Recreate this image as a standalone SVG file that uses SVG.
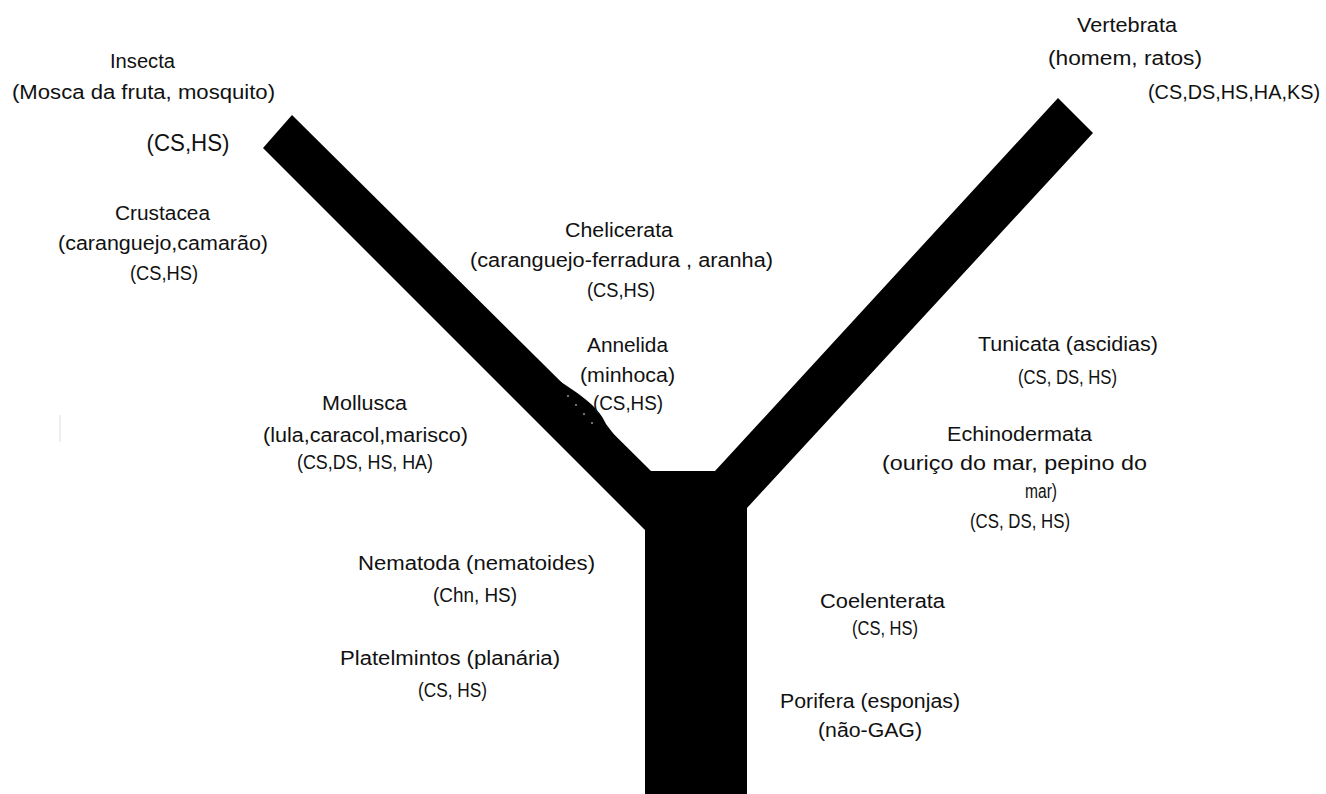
<svg xmlns="http://www.w3.org/2000/svg" width="1326" height="794" viewBox="0 0 1326 794">
  <style>
    .lbl { font-family: "Liberation Sans", Arial, sans-serif; font-size: 20px; fill: #111; text-anchor: middle; }
    .big { font-size: 24px; }
    .trunk { fill: #000; }
  </style>
  <rect width="1326" height="794" fill="#fff"/>

  <!-- Y-shaped phylogeny: trunk with two diagonal branches -->
  <g id="connectors">
    <path class="trunk" d="M263,148 L292,115 L651,471 L715,471 L1058,98 L1093,133 L747,508 L747,794 L645,794 L645,530 Z"/>
    <!-- slight bulge on the left branch -->
    <path class="trunk" d="M556,379 C575,391 598,405 606,424 L621,444 L590,444 Z"/>
    <g fill="#fff">
      <circle cx="568" cy="396" r="0.8"/>
      <circle cx="576" cy="405" r="0.8"/>
      <circle cx="584" cy="414" r="0.8"/>
      <circle cx="592" cy="423" r="0.8"/>
    </g>
  </g>

  <!-- faint mark at left margin -->
  <line x1="60" y1="415" x2="60" y2="442" stroke="#eee" stroke-width="2"/>

  <g id="insecta">
    <text class="lbl" x="142.5" y="68" textLength="65" lengthAdjust="spacingAndGlyphs">Insecta</text>
    <text class="lbl" x="143.5" y="99" textLength="263" lengthAdjust="spacingAndGlyphs">(Mosca da fruta, mosquito)</text>
    <text class="lbl big" x="188" y="151" textLength="83" lengthAdjust="spacingAndGlyphs">(CS,HS)</text>
  </g>

  <g id="vertebrata">
    <text class="lbl" x="1127" y="32" textLength="100" lengthAdjust="spacingAndGlyphs">Vertebrata</text>
    <text class="lbl" x="1125" y="65" textLength="154" lengthAdjust="spacingAndGlyphs">(homem, ratos)</text>
    <text class="lbl" x="1234" y="99" textLength="172" lengthAdjust="spacingAndGlyphs">(CS,DS,HS,HA,KS)</text>
  </g>

  <g id="crustacea">
    <text class="lbl" x="162.5" y="220" textLength="95" lengthAdjust="spacingAndGlyphs">Crustacea</text>
    <text class="lbl" x="163" y="250" textLength="210" lengthAdjust="spacingAndGlyphs">(caranguejo,camarão)</text>
    <text class="lbl" x="164" y="280" textLength="68" lengthAdjust="spacingAndGlyphs">(CS,HS)</text>
  </g>

  <g id="chelicerata">
    <text class="lbl" x="619" y="237" textLength="108" lengthAdjust="spacingAndGlyphs">Chelicerata</text>
    <text class="lbl" x="621.5" y="267" textLength="303" lengthAdjust="spacingAndGlyphs">(caranguejo-ferradura , aranha)</text>
    <text class="lbl" x="621" y="297" textLength="68" lengthAdjust="spacingAndGlyphs">(CS,HS)</text>
  </g>

  <g id="annelida">
    <text class="lbl" x="627.5" y="352" textLength="81" lengthAdjust="spacingAndGlyphs">Annelida</text>
    <text class="lbl" x="627.5" y="382" textLength="95" lengthAdjust="spacingAndGlyphs">(minhoca)</text>
    <text class="lbl" x="628" y="410" textLength="70" lengthAdjust="spacingAndGlyphs">(CS,HS)</text>
  </g>

  <g id="mollusca">
    <text class="lbl" x="364.5" y="410" textLength="85" lengthAdjust="spacingAndGlyphs">Mollusca</text>
    <text class="lbl" x="365.5" y="442" textLength="205" lengthAdjust="spacingAndGlyphs">(lula,caracol,marisco)</text>
    <text class="lbl" x="365" y="469" textLength="136" lengthAdjust="spacingAndGlyphs">(CS,DS, HS, HA)</text>
  </g>

  <g id="tunicata">
    <text class="lbl" x="1068" y="351" textLength="180" lengthAdjust="spacingAndGlyphs">Tunicata (ascidias)</text>
    <text class="lbl" x="1067.5" y="384" textLength="99" lengthAdjust="spacingAndGlyphs">(CS, DS, HS)</text>
  </g>

  <g id="echinodermata">
    <text class="lbl" x="1019.5" y="441" textLength="145" lengthAdjust="spacingAndGlyphs">Echinodermata</text>
    <text class="lbl" x="1014.5" y="470" textLength="265" lengthAdjust="spacingAndGlyphs">(ouriço do mar, pepino do</text>
    <text class="lbl" x="1041" y="498" textLength="32" lengthAdjust="spacingAndGlyphs">mar)</text>
    <text class="lbl" x="1020" y="528" textLength="100" lengthAdjust="spacingAndGlyphs">(CS, DS, HS)</text>
  </g>

  <g id="nematoda">
    <text class="lbl" x="476.5" y="570" textLength="237" lengthAdjust="spacingAndGlyphs">Nematoda (nematoides)</text>
    <text class="lbl" x="475" y="602" textLength="84" lengthAdjust="spacingAndGlyphs">(Chn, HS)</text>
  </g>

  <g id="platelmintos">
    <text class="lbl" x="450" y="665" textLength="220" lengthAdjust="spacingAndGlyphs">Platelmintos (planária)</text>
    <text class="lbl" x="452.5" y="697" textLength="69" lengthAdjust="spacingAndGlyphs">(CS, HS)</text>
  </g>

  <g id="coelenterata">
    <text class="lbl" x="882.5" y="608" textLength="125" lengthAdjust="spacingAndGlyphs">Coelenterata</text>
    <text class="lbl" x="885" y="635" textLength="66" lengthAdjust="spacingAndGlyphs">(CS, HS)</text>
  </g>

  <g id="porifera">
    <text class="lbl" x="870" y="708" textLength="180" lengthAdjust="spacingAndGlyphs">Porifera (esponjas)</text>
    <text class="lbl" x="870" y="737" textLength="104" lengthAdjust="spacingAndGlyphs">(não-GAG)</text>
  </g>
</svg>
